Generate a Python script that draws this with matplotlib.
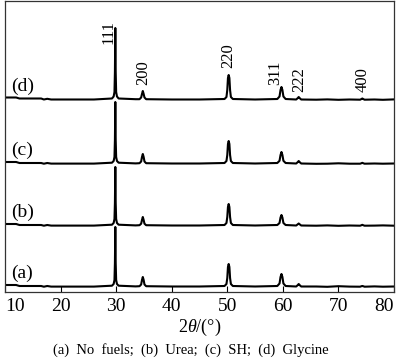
import numpy as np
import matplotlib
matplotlib.use('Agg')
import matplotlib.pyplot as plt

# XRD patterns (intensity in arbitrary units)
two_theta = [10, 12, 12.6, 16.5, 17.0, 17.6, 18.3, 22, 26,
             29.25, 29.55, 29.7, 29.78, 29.85, 29.92, 30.0, 30.15, 30.45,
             33.5,
             34.2, 34.5, 34.65, 34.8, 34.95, 35.1, 35.4,
             40, 45,
             49.5, 49.85, 50.0, 50.12, 50.25, 50.38, 50.5, 50.65, 51.0,
             55,
             59.0, 59.4, 59.58, 59.75, 59.92, 60.1, 60.5,
             62.4, 62.7, 62.85, 63.0, 63.3,
             66, 68, 70, 72,
             73.9, 74.15, 74.3, 74.45, 74.7,
             76.5, 78, 80]

counts_a = [2.0, 2.0, 1.0, 1.0, 0.3, 1.0, 0.4, 0.4, 0.4,
            1.3, 3.0, 7, 24, 60, 24, 7, 3.0, 1.3,
            0.6,
            0.8, 2.5, 7, 10, 7, 2.5, 0.8,
            0.5, 0.5,
            1, 3, 9, 20, 23, 20, 9, 3, 1,
            0.5,
            1, 3.5, 10, 13, 10, 3.5, 1,
            0.5, 2, 3, 2, 0.5,
            0.5, 0.2, 0.8, 0.4,
            0.3, 0.8, 1.0, 0.8, 0.3,
            0.6, 0.3, 0.5]

counts_b = [2.0, 2.0, 1.0, 1.0, 0.3, 1.0, 0.4, 0.4, 0.4,
            1.3, 3.0, 7, 23, 59, 23, 7, 3.0, 1.3,
            0.6,
            0.8, 2.3, 6, 9, 6, 2.3, 0.8,
            0.5, 0.5,
            1, 3, 9, 19, 22, 19, 9, 3, 1,
            0.5,
            1, 3.0, 8.5, 11, 8.5, 3.0, 1,
            0.5, 1.8, 2.5, 1.8, 0.5,
            0.3, 0.6, 0.2, 0.5,
            0.3, 0.8, 1.2, 0.8, 0.3,
            0.4, 0.6, 0.3]

counts_c = [2.0, 2.0, 1.0, 1.0, 0.3, 1.0, 0.4, 0.4, 0.4,
            1.3, 3.0, 7, 24, 62, 24, 7, 3.0, 1.3,
            0.6,
            0.8, 2.5, 7, 10, 7, 2.5, 0.8,
            0.5, 0.5,
            1, 3, 9, 20, 23, 20, 9, 3, 1,
            0.5,
            1, 3.2, 9, 12, 9, 3.2, 1,
            0.5, 2, 3, 2, 0.5,
            0.2, 0.3, 0.7, 0.3,
            0.3, 0.8, 1.2, 0.8, 0.3,
            0.5, 0.3, 0.5]

counts_d = [2.5, 2.5, 1.5, 1.5, 0.5, 1.2, 0.5, 0.5, 0.5,
            1.5, 3.5, 8, 28, 72, 28, 8, 3.5, 1.5,
            0.8,
            0.8, 2.5, 6, 9, 6, 2.5, 0.8,
            0.5, 0.5,
            1, 3, 10, 22, 25, 22, 10, 3, 1,
            0.5,
            1, 3.5, 10, 13, 10, 3.5, 1,
            0.5, 2, 3, 2, 0.5,
            0.3, 0.6, 0.2, 0.5,
            0.3, 1.0, 1.5, 1.0, 0.3,
            0.5, 0.2, 0.6]

series_labels = ['(a)', '(b)', '(c)', '(d)']
hkl_labels = ['111', '200', '220', '311', '222', '400']
hkl_pos = [28.6, 34.9, 50.2, 58.7, 62.9, 74.4]
caption = '(a)  No  fuels;  (b)  Urea;  (c)  SH;  (d)  Glycine'

plt.rcParams['font.family'] = 'Liberation Serif'
plt.rcParams['mathtext.fontset'] = 'custom'
plt.rcParams['mathtext.rm'] = 'Liberation Serif'
plt.rcParams['mathtext.it'] = 'Liberation Serif:italic'

fig = plt.figure(figsize=(4.0, 3.62), dpi=100)
ax = fig.add_axes([5 / 400, 70 / 362, 389 / 400, 291 / 362])

offsets = [5, 66, 128, 192]  # vertical stacking
x = np.array(two_theta)
for i, cts in enumerate([counts_a, counts_b, counts_c, counts_d]):
    ax.plot(x, np.array(cts) + offsets[i], color='black', lw=1.5, solid_joinstyle='round')
    ax.text(13.1, offsets[i] + 14, series_labels[i], fontsize=14, ha='center', va='center')

hkl_y = [248, 207, 224, 207, 200, 200]
for lab, xp, yp in zip(hkl_labels, hkl_pos, hkl_y):
    ax.text(xp, yp, lab, rotation=90, fontsize=12, ha='center', va='bottom')

ax.set_xlim(10, 80)
ax.set_ylim(0, 291)
ax.set_xticks(range(10, 81, 10))
ax.set_yticks([])
ax.tick_params(axis='x', direction='in', length=4, width=0.8, labelsize=14, pad=4)
# edge labels sit inside the figure, as in the original
tl = ax.get_xticklabels()
tl[0].set_ha('left')
tl[-1].set_ha('right')
for s in ax.spines.values():
    s.set_linewidth(0.9)
    s.set_color('#333333')

fig.text(200 / 400, 1 - 327 / 362, r'$2\theta$/(°)', fontsize=13, ha='center', va='center')
fig.text(191 / 400, 1 - 350 / 362, caption, fontsize=10.5, ha='center', va='center')

fig.savefig('out.png', dpi=100)
